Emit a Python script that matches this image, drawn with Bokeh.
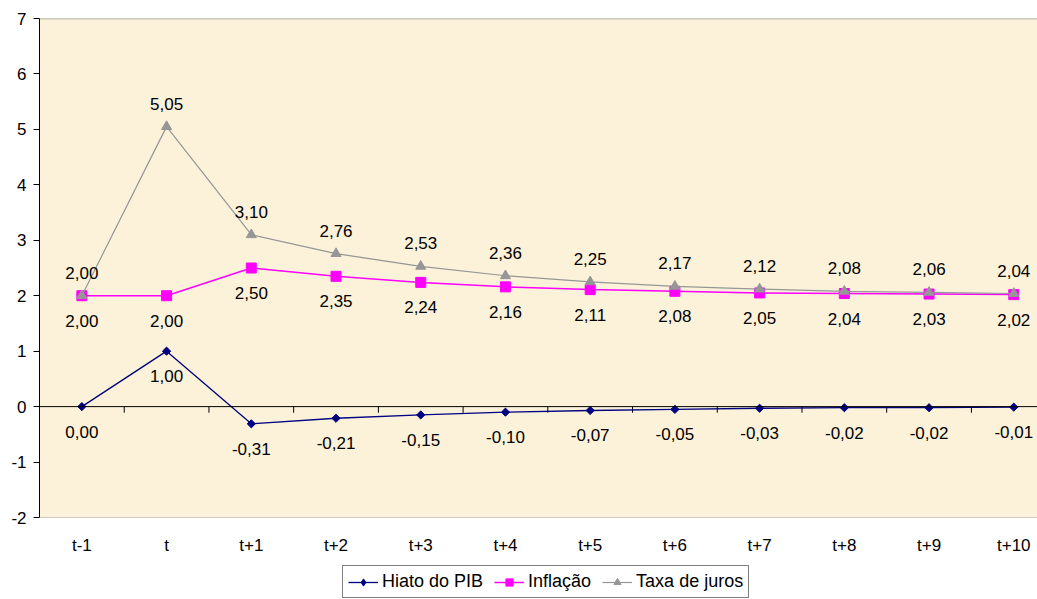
from bokeh.plotting import figure
from bokeh.models import Legend, LegendItem, Span, FixedTicker, Range1d
from bokeh.layouts import column
from bokeh.core.properties import value
from bokeh.embed import file_html
from bokeh.resources import INLINE
import numpy as np

categories = ["t-1", "t", "t+1", "t+2", "t+3", "t+4", "t+5", "t+6", "t+7", "t+8", "t+9", "t+10"]
hiato = [0.00, 1.00, -0.31, -0.21, -0.15, -0.10, -0.07, -0.05, -0.03, -0.02, -0.02, -0.01]
inflacao = [2.00, 2.00, 2.50, 2.35, 2.24, 2.16, 2.11, 2.08, 2.05, 2.04, 2.03, 2.02]
juros = [2.00, 5.05, 3.10, 2.76, 2.53, 2.36, 2.25, 2.17, 2.12, 2.08, 2.06, 2.04]
y_ticks = [-2, -1, 0, 1, 2, 3, 4, 5, 6, 7]
series_names = ["Hiato do PIB", "Inflação", "Taxa de juros"]
colors = ["#000080", "#FF00FF", "#969696"]

FONT = "Liberation Sans"
FS = "17px"

xs = list(range(len(categories)))

p = figure(width=1037, height=562, output_backend="svg", toolbar_location=None,
           x_range=Range1d(-0.5, 11.28), y_range=Range1d(-2, 7),
           min_border_left=39, min_border_top=18, min_border_right=0, min_border_bottom=45)
p.background_fill_color = "#FBF2D9"
p.border_fill_color = "white"
p.outline_line_color = None
p.grid.visible = False

# axes
p.yaxis.ticker = FixedTicker(ticks=y_ticks)
p.yaxis.major_label_overrides = {t: str(t) for t in y_ticks}
p.yaxis.axis_line_color = "black"
p.yaxis.major_tick_out = 6
p.yaxis.major_tick_in = 0
p.yaxis.minor_tick_line_color = None
p.yaxis.major_label_standoff = 7
p.yaxis.major_label_text_font = FONT
p.yaxis.major_label_text_font_size = FS
p.yaxis.major_label_text_color = "black"

p.xaxis.ticker = FixedTicker(ticks=xs)
p.xaxis.major_label_overrides = {i: c for i, c in enumerate(categories)}
p.xaxis.axis_line_color = None
p.xaxis.major_tick_line_color = None
p.xaxis.minor_tick_line_color = None
p.xaxis.major_label_standoff = 12
p.xaxis.major_label_text_font = FONT
p.xaxis.major_label_text_font_size = FS
p.xaxis.major_label_text_color = "black"

# frame top / bottom lines
p.add_layout(Span(location=7, dimension="width", line_color="#999999", line_width=1.5))
p.add_layout(Span(location=-2, dimension="width", line_color="#999999", line_width=1))

# zero line with category boundary ticks
p.add_layout(Span(location=0, dimension="width", line_color="black", line_width=1))
bounds = [i + 0.5 for i in xs[:-1]]
p.segment(x0=bounds, y0=[0] * len(bounds), x1=bounds, y1=[-0.11] * len(bounds),
          line_color="black", line_width=1)

def fmt(v):
    return f"{v:.2f}".replace(".", ",")

def add_series(fig, ys, i, for_legend=False):
    ln = fig.line(xs, ys, line_color=colors[i], line_width=[1.3, 1.5, 1.2][i])
    if i == 0:
        if for_legend:
            mk = fig.scatter(xs, ys, marker="diamond", size=10,
                             fill_color=colors[i], line_color=colors[i])
        else:
            mk = fig.scatter(xs, ys, marker="square", angle=np.pi / 4, size=5.8,
                             fill_color=colors[i], line_color=colors[i])
    elif i == 1:
        mk = fig.scatter(xs, ys, marker="square", size=10,
                         fill_color=colors[i], line_color=colors[i])
    else:
        mk = fig.scatter(xs, ys, marker="triangle", size=10,
                         fill_color=colors[i], line_color=colors[i])
    return ln, mk

all_series = [hiato, inflacao, juros]
for i, ys in enumerate(all_series):
    add_series(p, ys, i)

# data labels
p.text(xs, juros, text=[fmt(v) for v in juros], y_offset=-23,
       text_align="center", text_baseline="middle",
       text_font=value(FONT), text_font_size=FS, text_color="black")
p.text(xs, inflacao, text=[fmt(v) for v in inflacao], y_offset=25,
       text_align="center", text_baseline="middle",
       text_font=value(FONT), text_font_size=FS, text_color="black")
p.text(xs, hiato, text=[fmt(v) for v in hiato], y_offset=25,
       text_align="center", text_baseline="middle",
       text_font=value(FONT), text_font_size=FS, text_color="black")

# legend in its own strip below the chart (series drawn out of view there)
lf = figure(width=1037, height=37, output_backend="svg", toolbar_location=None,
            x_range=Range1d(-0.5, 11.28), y_range=Range1d(100, 101),
            min_border=0, min_border_left=0, min_border_right=0,
            min_border_top=0, min_border_bottom=0)
lf.axis.visible = False
lf.grid.visible = False
lf.outline_line_color = None
lf.background_fill_color = "white"
lf.border_fill_color = "white"

items = []
for i, ys in enumerate(all_series):
    ln, mk = add_series(lf, ys, i, for_legend=True)
    items.append(LegendItem(label=series_names[i], renderers=[ln, mk]))

legend = Legend(items=items, orientation="horizontal", location=(303, 1))
legend.label_text_font = FONT
legend.label_text_font_size = "18px"
legend.label_text_color = "black"
legend.glyph_width = 30
legend.glyph_height = 18
legend.label_height = 18
legend.label_standoff = 4
legend.spacing = 11
legend.padding = 5
legend.margin = 0
legend.border_line_color = "black"
legend.border_line_width = 1
legend.background_fill_color = "white"
legend.background_fill_alpha = 1
lf.add_layout(legend, "center")

layout = column(p, lf, spacing=0)
open("out.html", "w").write(file_html(layout, INLINE))
